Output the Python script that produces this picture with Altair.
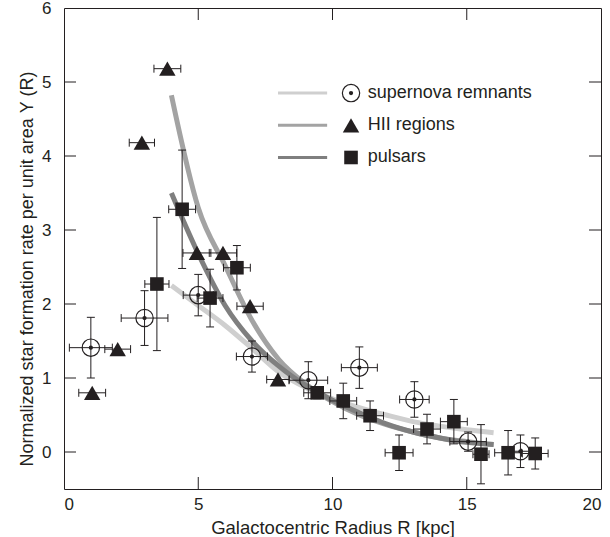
import altair as alt
import pandas as pd

# ---------------- data ----------------
series_names = ["supernova remnants", "HII regions", "pulsars"]

# supernova remnants
snr_r = [1.0, 3.0, 5.0, 7.0, 9.1, 11.0, 13.05, 15.05, 17.0]
snr_v = [1.41, 1.81, 2.12, 1.29, 0.97, 1.14, 0.71, 0.14, 0.01]
snr_dr = [0.8, 0.87, 0.56, 0.58, 0.72, 0.67, 0.55, 0.68, 0.45]
snr_dv = [0.41, 0.37, 0.28, 0.21, 0.25, 0.28, 0.24, 0.13, 0.22]

# HII regions
hii_r = [1.05, 2.0, 2.9, 3.85, 4.95, 5.92, 6.93, 7.97]
hii_v = [0.80, 1.39, 4.18, 5.18, 2.69, 2.69, 1.97, 0.98]
hii_dr = [0.5, 0.48, 0.47, 0.5, 0.52, 0.51, 0.49, 0.42]
hii_dv = [0, 0, 0, 0, 0, 0, 0, 0]

# pulsars
psr_r = [3.46, 4.4, 5.44, 6.44, 9.43, 10.4, 11.4, 12.48, 13.52, 14.52, 15.53, 16.54, 17.55]
psr_v = [2.27, 3.28, 2.08, 2.49, 0.80, 0.69, 0.49, -0.01, 0.31, 0.41, -0.03, -0.01, -0.02]
psr_dr = [0.45, 0.5, 0.48, 0.5, 0.5, 0.5, 0.5, 0.52, 0.5, 0.5, 0.3, 0.5, 0.48]
psr_dv = [0.9, 0.8, 0.39, 0.3, 0.08, 0.24, 0.2, 0.24, 0.2, 0.3, 0.4, 0.3, 0.21]

# fitted curves
fit_r = [4, 5, 6, 7, 8, 9, 10, 11, 12, 13, 14, 15, 16]
snr_fit = [2.25, 1.98, 1.71, 1.40, 1.08, 0.87, 0.72, 0.60, 0.50, 0.41, 0.35, 0.30, 0.26]
hii_fit = [4.82, 3.30, 2.52, 1.78, 1.25, 0.92, 0.68, 0.50, 0.37, 0.27, 0.19, 0.14, 0.10]
psr_fit = [3.50, 2.68, 1.98, 1.50, 1.16, 0.90, 0.70, 0.53, 0.38, 0.27, 0.19, 0.13, 0.10]

x_ticks = [0, 5, 10, 15, 20]
y_ticks = [0, 1, 2, 3, 4, 5, 6]
inner_x_ticks = [5, 10, 15]
inner_y_ticks = [0, 1, 2, 3, 4, 5]

# ---------------- tables ----------------
def table(name, r, v, dr, dv):
    return pd.DataFrame({"series": name, "r": r, "v": v, "dr": dr, "dv": dv})

pts = pd.concat([
    table(series_names[0], snr_r, snr_v, snr_dr, snr_dv),
    table(series_names[1], hii_r, hii_v, hii_dr, hii_dv),
    table(series_names[2], psr_r, psr_v, psr_dr, psr_dv),
], ignore_index=True)
pts["r_lo"] = pts["r"] - pts["dr"]
pts["r_hi"] = pts["r"] + pts["dr"]
pts["v_lo"] = pts["v"] - pts["dv"]
pts["v_hi"] = pts["v"] + pts["dv"]

fits = pd.concat([
    pd.DataFrame({"series": series_names[0], "r": fit_r, "v": snr_fit}),
    pd.DataFrame({"series": series_names[1], "r": fit_r, "v": hii_fit}),
    pd.DataFrame({"series": series_names[2], "r": fit_r, "v": psr_fit}),
], ignore_index=True)

legend_df = pd.DataFrame({"label": series_names, "row": [0, 1, 2]})

# ---------------- styling ----------------
INK = "#231f20"
FONT = "Liberation Sans"
curve_colors = ["#cfcfcf", "#a3a3a3", "#7f7f7f"]
W, H = 537, 481
XT = "Galactocentric Radius R [kpc]"
YT = "Normalized star formation rate per unit area  Υ (R)"

X = alt.Scale(domain=[0, 20], nice=False, zero=False)
Y = alt.Scale(domain=[-0.5, 6], nice=False, zero=False)
C = alt.Scale(domain=series_names, range=curve_colors)

x_axis = alt.Axis(values=x_ticks, grid=False, domain=False, ticks=False,
                  labelPadding=7, labelFontSize=17, titleFontSize=18.5, titlePadding=6,
                  labelFont=FONT, titleFont=FONT, labelColor=INK, titleColor=INK,
                  titleFontWeight="normal", format="d")
y_axis = alt.Axis(values=y_ticks, grid=False, domain=False, ticks=False,
                  labelPadding=13, labelFontSize=17, titleFontSize=18,
                  labelFont=FONT, titleFont=FONT, labelColor=INK, titleColor=INK,
                  titleFontWeight="normal", titleX=-28, titleY=H / 2 + 20,
                  titleAngle=270, titleAlign="center", titleBaseline="bottom", format="d")


def xq(field):
    return alt.X(field, type="quantitative", scale=X, axis=x_axis, title=XT)


def yq(field):
    return alt.Y(field, type="quantitative", scale=Y, axis=y_axis, title=YT)


# ---------------- layers ----------------
curves = alt.Chart(fits).mark_line(strokeWidth=5, interpolate="monotone", strokeCap="butt").encode(
    x=xq("r"), y=yq("v"),
    color=alt.Color("series:N", scale=C, legend=None),
    detail="series:N",
)

base = alt.Chart(pts)
hx = base.transform_filter("datum.dr > 0")
hy = base.transform_filter("datum.dv > 0")
xerr = hx.mark_rule(color=INK, strokeWidth=1).encode(x=xq("r_lo"), x2="r_hi:Q", y=yq("v"))
xcap_lo = hx.mark_rule(color=INK, strokeWidth=1, yOffset=-4, y2Offset=4).encode(
    x=xq("r_lo"), y=yq("v"), y2="v:Q")
xcap_hi = hx.mark_rule(color=INK, strokeWidth=1, yOffset=-4, y2Offset=4).encode(
    x=xq("r_hi"), y=yq("v"), y2="v:Q")
yerr = hy.mark_rule(color=INK, strokeWidth=1).encode(x=xq("r"), y=yq("v_lo"), y2="v_hi:Q")
ycap_lo = hy.mark_rule(color=INK, strokeWidth=1, xOffset=-4, x2Offset=4).encode(
    x=xq("r"), x2="r:Q", y=yq("v_lo"))
ycap_hi = hy.mark_rule(color=INK, strokeWidth=1, xOffset=-4, x2Offset=4).encode(
    x=xq("r"), x2="r:Q", y=yq("v_hi"))

snr_pts = base.transform_filter(alt.datum.series == series_names[0])
hii_pts = base.transform_filter(alt.datum.series == series_names[1])
psr_pts = base.transform_filter(alt.datum.series == series_names[2])
snr_ring = snr_pts.mark_point(shape="circle", filled=False, size=300, stroke=INK,
                              strokeWidth=1.2, opacity=1).encode(x=xq("r"), y=yq("v"))
snr_dot = snr_pts.mark_point(shape="circle", filled=True, size=18, color=INK,
                             opacity=1).encode(x=xq("r"), y=yq("v"))
hii_tri = hii_pts.mark_point(shape="triangle-up", filled=True, size=270, color=INK,
                             opacity=1).encode(x=xq("r"), y=yq("v"))
psr_sq = psr_pts.mark_point(shape="square", filled=True, size=185, color=INK,
                            opacity=1).encode(x=xq("r"), y=yq("v"))

# inward ticks on all four sides
yt = alt.Chart(pd.DataFrame({"t": inner_y_ticks}))
xt = alt.Chart(pd.DataFrame({"t": inner_x_ticks}))
tick_l = yt.mark_rule(color=INK, strokeWidth=1).encode(y=yq("t"), x=alt.value(0), x2=alt.value(12))
tick_r = yt.mark_rule(color=INK, strokeWidth=1).encode(y=yq("t"), x=alt.value(W - 12), x2=alt.value(W))
tick_b = xt.mark_rule(color=INK, strokeWidth=1).encode(x=xq("t"), y=alt.value(H - 12), y2=alt.value(H))
tick_t = xt.mark_rule(color=INK, strokeWidth=1).encode(x=xq("t"), y=alt.value(0), y2=alt.value(12))

# custom legend (line sample + marker + label)
lg = alt.Chart(legend_df).transform_calculate(
    ly="4.85 - 0.435 * datum.row", lx0="7.97", lx1="9.80", sx="10.69", tx="11.31")
leg_line = lg.mark_rule(strokeWidth=3).encode(
    x=xq("lx0"), x2="lx1:Q", y=yq("ly"),
    color=alt.Color("label:N", scale=C, legend=None))
leg_ring = lg.transform_filter("datum.row == 0").mark_point(
    shape="circle", filled=False, size=300, stroke=INK, strokeWidth=1.2, opacity=1).encode(
    x=xq("sx"), y=yq("ly"))
leg_dot = lg.transform_filter("datum.row == 0").mark_point(
    shape="circle", filled=True, size=18, color=INK, opacity=1).encode(x=xq("sx"), y=yq("ly"))
leg_tri = lg.transform_filter("datum.row == 1").mark_point(
    shape="triangle-up", filled=True, size=270, color=INK, opacity=1).encode(x=xq("sx"), y=yq("ly"))
leg_sq = lg.transform_filter("datum.row == 2").mark_point(
    shape="square", filled=True, size=185, color=INK, opacity=1).encode(x=xq("sx"), y=yq("ly"))
leg_text = lg.mark_text(align="left", baseline="middle", fontSize=18, font=FONT, color=INK).encode(
    x=xq("tx"), y=yq("ly"), text="label:N")

chart = alt.layer(
    curves, xerr, xcap_lo, xcap_hi, yerr, ycap_lo, ycap_hi,
    snr_ring, snr_dot, hii_tri, psr_sq,
    tick_l, tick_r, tick_b, tick_t,
    leg_line, leg_ring, leg_dot, leg_tri, leg_sq, leg_text,
).properties(
    width=W, height=H,
    autosize=alt.AutoSizeParams(type="none"),
    padding={"left": 64, "top": 8, "right": 9, "bottom": 48},
    background="white",
).configure_view(stroke=INK, strokeWidth=1)

chart.save("out.html", embed_options={"renderer": "svg", "actions": False})
